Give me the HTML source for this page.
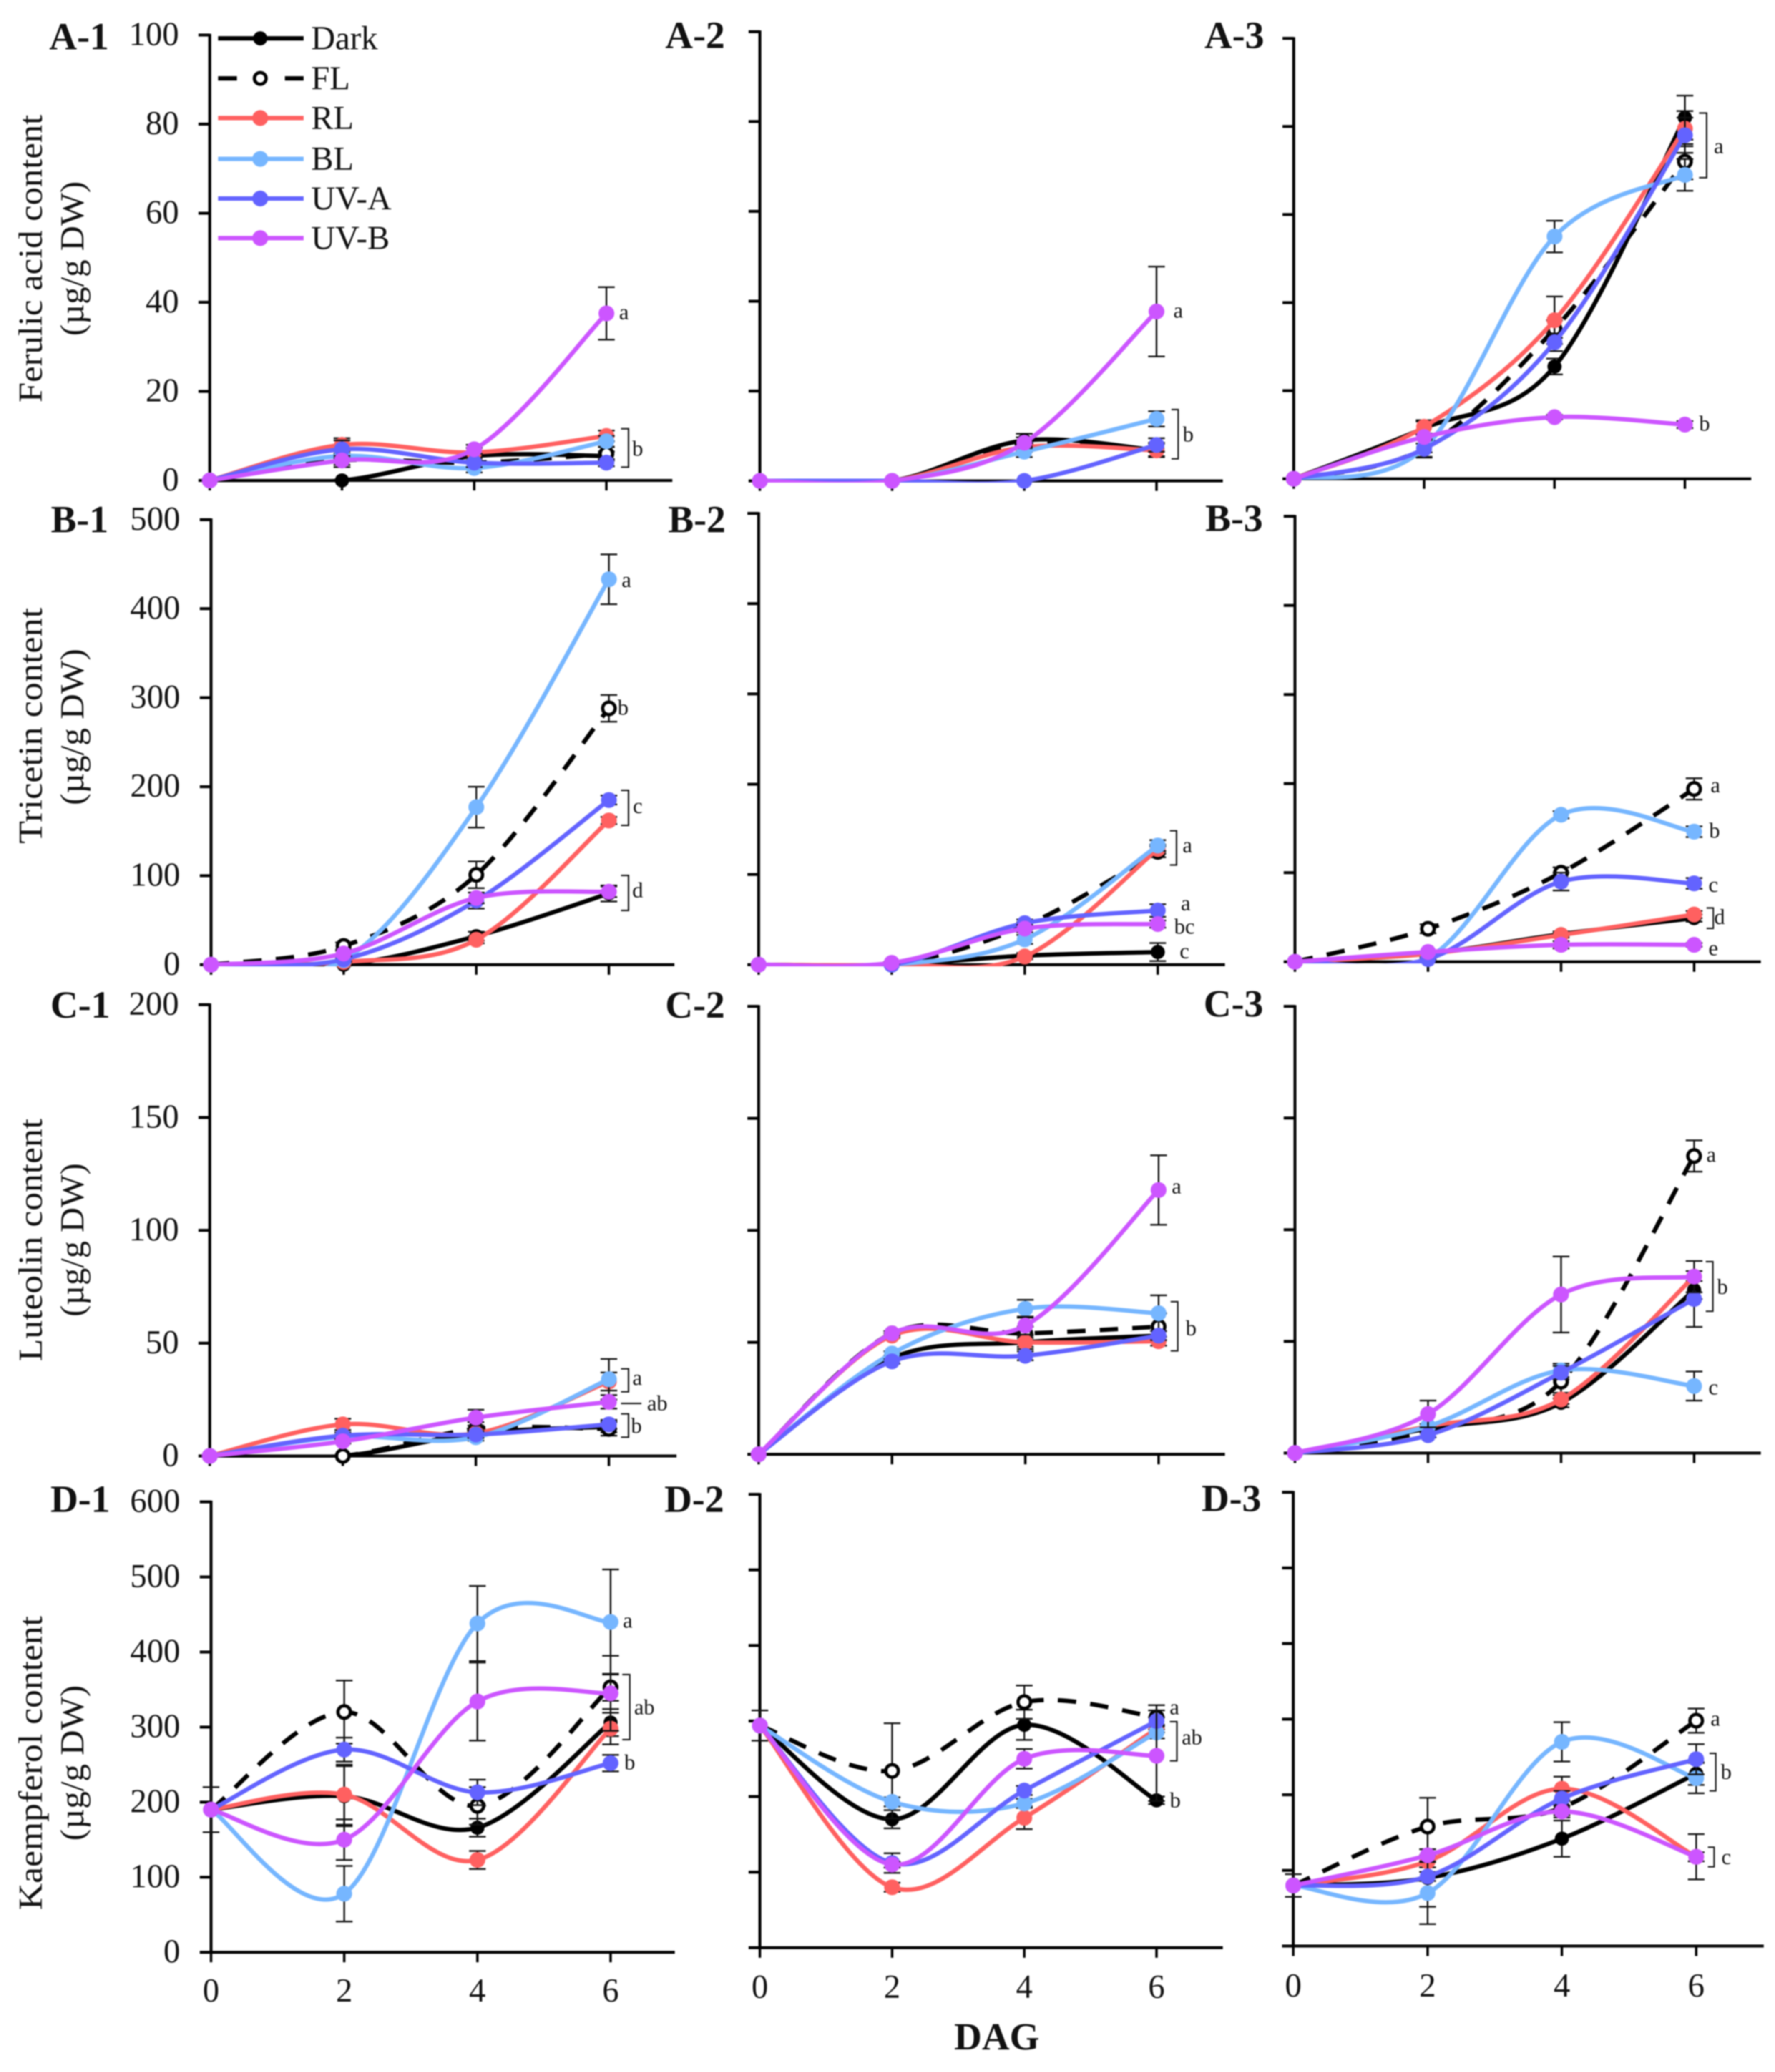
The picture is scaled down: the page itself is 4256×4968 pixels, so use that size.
<!DOCTYPE html>
<html lang="en">
<head>
<meta charset="utf-8">
<title>Phenolic content over days after germination</title>
<style>
html,body{margin:0;padding:0;background:#fff;}
svg{display:block;font-family:"Liberation Serif",serif;fill:#111;filter:blur(1.5px);}
.tick{font-size:80px;}
.panel{font-size:92px;font-weight:bold;}
.leg{font-size:80px;}
.yt{font-size:80px;text-anchor:middle;}
.let{font-size:52px;text-anchor:middle;dominant-baseline:central;}
.br{fill:none;stroke:#111;stroke-width:3.5;}
</style>
</head>
<body>
<svg id="chart" xmlns="http://www.w3.org/2000/svg" width="4256" height="4968" viewBox="0 0 4256 4968">
<rect x="0" y="0" width="4256" height="4968" fill="#fff"/>
<g id="plots"></g>

<g>
<text class="panel" x="118" y="118">A-1</text>
<text class="panel" x="1595" y="115">A-2</text>
<text class="panel" x="2888" y="115">A-3</text>
<text class="panel" x="122" y="1276">B-1</text>
<text class="panel" x="1602" y="1276">B-2</text>
<text class="panel" x="2890" y="1273">B-3</text>
<text class="panel" x="121" y="2440">C-1</text>
<text class="panel" x="1595" y="2440">C-2</text>
<text class="panel" x="2886" y="2437">C-3</text>
<text class="panel" x="121" y="3625">D-1</text>
<text class="panel" x="1593" y="3625">D-2</text>
<text class="panel" x="2881" y="3623">D-3</text>
</g>

<g>
<text class="yt" transform="translate(100,620) rotate(-90)" textLength="690" lengthAdjust="spacingAndGlyphs">Ferulic acid content</text>
<text class="yt" transform="translate(200,620) rotate(-90)" textLength="371" lengthAdjust="spacingAndGlyphs">(µg/g DW)</text>
<text class="yt" transform="translate(100,1740) rotate(-90)" textLength="566" lengthAdjust="spacingAndGlyphs">Tricetin content</text>
<text class="yt" transform="translate(200,1743) rotate(-90)" textLength="375" lengthAdjust="spacingAndGlyphs">(µg/g DW)</text>
<text class="yt" transform="translate(100,2973) rotate(-90)" textLength="582" lengthAdjust="spacingAndGlyphs">Luteolin content</text>
<text class="yt" transform="translate(200,2973) rotate(-90)" textLength="368" lengthAdjust="spacingAndGlyphs">(µg/g DW)</text>
<text class="yt" transform="translate(100,4227) rotate(-90)" textLength="705" lengthAdjust="spacingAndGlyphs">Kaempferol content</text>
<text class="yt" transform="translate(200,4227) rotate(-90)" textLength="373" lengthAdjust="spacingAndGlyphs">(µg/g DW)</text>
</g>

<text x="2390" y="4914" text-anchor="middle" font-size="92" font-weight="bold">DAG</text>

<g>
<g><line x1="523" x2="728" y1="92" y2="92" stroke="#000" stroke-width="10.5"/><circle cx="624" cy="92" r="17" fill="#000"/><text class="leg" x="746" y="118">Dark</text></g>
<g><line x1="523" x2="728" y1="188" y2="188" stroke="#000" stroke-width="10.5" stroke-dasharray="45 115"/><circle cx="624" cy="188" r="14" fill="#fff" stroke="#000" stroke-width="8"/><text class="leg" x="746" y="214">FL</text></g>
<g><line x1="523" x2="728" y1="283" y2="283" stroke="#FF6060" stroke-width="10.5"/><circle cx="624" cy="283" r="19" fill="#FF6060"/><text class="leg" x="746" y="309">RL</text></g>
<g><line x1="523" x2="728" y1="381" y2="381" stroke="#76B6FF" stroke-width="10.5"/><circle cx="624" cy="381" r="19" fill="#76B6FF"/><text class="leg" x="746" y="407">BL</text></g>
<g><line x1="523" x2="728" y1="476" y2="476" stroke="#6363FF" stroke-width="10.5"/><circle cx="624" cy="476" r="19" fill="#6363FF"/><text class="leg" x="746" y="502">UV-A</text></g>
<g><line x1="523" x2="728" y1="571" y2="571" stroke="#CC55FF" stroke-width="10.5"/><circle cx="624" cy="571" r="19" fill="#CC55FF"/><text class="leg" x="746" y="597">UV-B</text></g>
</g>

<g>
<text class="let" x="1496" y="749">a</text>
<text class="let" x="1529" y="1076">b</text>
<path class="br" d="M1489 1028H1507V1120H1489"/>
<text class="let" x="2825" y="745">a</text>
<text class="let" x="2849" y="1042">b</text>
<path class="br" d="M2809 982H2825V1100H2809"/>
<text class="let" x="4121" y="351">a</text>
<path class="br" d="M4074 271H4092V426H4074"/>
<text class="let" x="4087" y="1016">b</text>

<text class="let" x="1502" y="1391">a</text>
<text class="let" x="1494" y="1697">b</text>
<text class="let" x="1529" y="1933">c</text>
<path class="br" d="M1489 1895H1507V1979H1489"/>
<text class="let" x="1529" y="2135">d</text>
<path class="br" d="M1489 2099H1507V2183H1489"/>
<text class="let" x="2847" y="2027">a</text>
<path class="br" d="M2805 1992H2821V2074H2805"/>
<text class="let" x="2843" y="2166">a</text>
<text class="let" x="2840" y="2222">bc</text>
<text class="let" x="2840" y="2281">c</text>
<text class="let" x="4113" y="1883">a</text>
<text class="let" x="4111" y="1992">b</text>
<text class="let" x="4108" y="2122">c</text>
<text class="let" x="4123" y="2199">d</text>
<path class="br" d="M4092 2177H4108V2226H4092"/>
<text class="let" x="4108" y="2274">e</text>

<text class="let" x="1528" y="3304">a</text>
<path class="br" d="M1489 3282H1507V3337H1489"/>
<path class="br" d="M1489 3365H1538"/>
<text class="let" x="1576" y="3365">ab</text>
<text class="let" x="1526" y="3419">b</text>
<path class="br" d="M1489 3390H1507V3446H1489"/>
<text class="let" x="2821" y="2845">a</text>
<text class="let" x="2856" y="3185">b</text>
<path class="br" d="M2807 3121H2824V3239H2807"/>
<text class="let" x="4103" y="2769">a</text>
<text class="let" x="4130" y="3086">b</text>
<path class="br" d="M4090 3025H4107V3144H4090"/>
<text class="let" x="4108" y="3327">c</text>

<text class="let" x="1505" y="3886">a</text>
<text class="let" x="1545" y="4094">ab</text>
<path class="br" d="M1492 4015H1510V4171H1492"/>
<text class="let" x="1510" y="4226">b</text>
<text class="let" x="2816" y="4094">a</text>
<text class="let" x="2858" y="4166">ab</text>
<path class="br" d="M2805 4128H2822V4222H2805"/>
<text class="let" x="2818" y="4317">b</text>
<text class="let" x="4113" y="4121">a</text>
<text class="let" x="4139" y="4249">b</text>
<path class="br" d="M4099 4204H4114V4294H4099"/>
<text class="let" x="4139" y="4453">c</text>
<path class="br" d="M4095 4429H4110V4476H4095"/>
</g>
</svg>

<script>
const days = [0, 2, 4, 6];
const seriesNames = ['dark', 'fl', 'rl', 'bl', 'uv-a', 'uv-b'];
const seriesColors = ['#000000', '#000000', '#FF6060', '#76B6FF', '#6363FF', '#CC55FF'];

const ticksA = ['0', '20', '40', '60', '80', '100'];
const ticksB = ['0', '100', '200', '300', '400', '500'];
const ticksC = ['0', '50', '100', '150', '200'];
const ticksD = ['0', '100', '200', '300', '400', '500', '600'];

// A-1 ferulic acid
const a1Dark = [0, 0, 5.5, 5.5], a1FL = [0, 4.5, 4, 6], a1RL = [0, 8, 6.3, 10], a1BL = [0, 5.5, 2.8, 8.8], a1UVA = [0, 7, 4, 4], a1UVB = [0, 4.5, 7, 37.5];
const a1DarkE = [0, 0, 1, 1], a1FLE = [0, 1.5, 1, 1.5], a1RLE = [0, 1.5, 1, 1.2], a1BLE = [0, 1, 1, 1.2], a1UVAE = [0, 2, 1, 0.8], a1UVBE = [0, 1, 1, 5.9];
// A-2
const a2Dark = [0, 0, 9, 6.8], a2FL = [0, 0, 8, 7], a2RL = [0, 0, 7.5, 6.8], a2BL = [0, 0, 6.5, 13.8], a2UVA = [0, 0, 0, 8], a2UVB = [0, 0, 8.5, 37.7];
const a2DarkE = [0, 0, 1.5, 1.5], a2FLE = [0, 0, 1, 1.5], a2RLE = [0, 0, 1, 1.5], a2BLE = [0, 0, 1.2, 1.7], a2UVAE = [0, 0, 0, 1.5], a2UVBE = [0, 0, 1.2, 10];
// A-3
const a3Dark = [0, 11.5, 25.5, 82], a3FL = [0, 7, 34, 72], a3RL = [0, 11.8, 36, 79.5], a3BL = [0, 7, 55, 69], a3UVA = [0, 6.8, 31, 78], a3UVB = [0, 9.5, 14, 12.3];
const a3DarkE = [0, 1.5, 1.8, 5], a3FLE = [0, 1, 2, 4], a3RLE = [0, 1.5, 5.4, 4], a3BLE = [0, 2, 3.6, 3.6], a3UVAE = [0, 2, 2, 4], a3UVBE = [0, 0.5, 0.5, 0.8];
// B-1 tricetin
const b1Dark = [0, 0, 32, 80], b1FL = [0, 21, 101, 288], b1RL = [0, 3, 28, 162], b1BL = [0, 5, 177, 433], b1UVA = [0, 6, 72, 185], b1UVB = [0, 12.5, 75, 82];
const b1DarkE = [0, 1, 5, 9], b1FLE = [0, 4, 15, 15], b1RLE = [0, 1, 4, 4], b1BLE = [0, 2, 23, 28], b1UVAE = [0, 2, 9, 5], b1UVBE = [0, 3, 6, 6];
// B-2
const b2Dark = [0, 0, 10, 14], b2FL = [0, 0, 43, 125], b2RL = [0, 0, 9, 128], b2BL = [0, 0, 28, 132], b2UVA = [0, 0, 46, 60], b2UVB = [0, 2, 40, 45];
const b2DarkE = [0, 0, 3, 10], b2FLE = [0, 0, 4, 6], b2RLE = [0, 0, 3, 5], b2BLE = [0, 0, 5, 6], b2UVAE = [0, 0, 4, 7], b2UVBE = [0, 1, 4, 4];
// B-3
const b3Dark = [0, 9, 31, 49], b3FL = [0, 37, 100, 194], b3RL = [0, 9, 30, 53], b3BL = [0, 4, 165, 146], b3UVA = [0, 3, 90, 88], b3UVB = [0, 11, 19, 19];
const b3DarkE = [0, 1, 3, 4], b3FLE = [0, 5, 6, 12], b3RLE = [0, 1, 3, 4], b3BLE = [0, 1, 4, 6], b3UVAE = [0, 1, 10, 6], b3UVBE = [0, 1, 4, 2];
// C-1 luteolin
const c1Dark = [0, 0, 10, 13], c1FL = [0, 0, 12, 12], c1RL = [0, 14, 10, 33], c1BL = [0, 8.5, 8.3, 34], c1UVA = [0, 9, 9.5, 14], c1UVB = [0, 6.5, 17, 24];
const c1DarkE = [0, 0, 2, 2.5], c1FLE = [0, 0, 3, 3], c1RLE = [0, 2.5, 2, 4], c1BLE = [0, 1, 1.5, 9], c1UVAE = [0, 1.5, 1.5, 2], c1UVBE = [0, 1, 3.5, 3];
// C-2
const c2Dark = [0, 43, 50, 53], c2FL = [0, 54, 54, 57], c2RL = [0, 53, 50, 50.5], c2BL = [0, 45, 65, 63], c2UVA = [0, 41.5, 44, 53], c2UVB = [0, 54, 57.5, 118];
const c2DarkE = [0, 1, 2, 2], c2FLE = [0, 1, 3, 6], c2RLE = [0, 1, 3, 2], c2BLE = [0, 1, 4, 8], c2UVAE = [0, 1, 2, 2], c2UVBE = [0, 1, 4, 15.5];
// C-3
const c3Dark = [0, 11, 22.5, 73], c3FL = [0, 10, 32, 133], c3RL = [0, 12, 24, 79], c3BL = [0, 12, 37, 30], c3UVA = [0, 8, 36, 69], c3UVB = [0, 17.5, 71, 79];
const c3DarkE = [0, 1, 2, 4], c3FLE = [0, 1, 5, 7], c3RLE = [0, 1, 2, 7], c3BLE = [0, 1, 3, 6.5], c3UVAE = [0, 1, 3, 12.5], c3UVBE = [0, 6, 17, 7];
// D-1 kaempferol
const d1Dark = [190, 208, 166, 306], d1FL = [190, 320, 195, 353], d1RL = [190, 210, 123, 298], d1BL = [190, 78, 438, 440], d1UVA = [190, 270, 213, 252], d1UVB = [190, 150, 334, 345];
const d1DarkE = [0, 40, 12, 18], d1FLE = [30, 42, 25, 18], d1RLE = [0, 40, 12, 21], d1BLE = [0, 37, 50, 70], d1UVAE = [0, 16, 17, 11], d1UVBE = [0, 27, 52, 50];
// D-2
const d2Dark = [294, 170, 295, 195], d2FL = [294, 234, 325, 305], d2RL = [294, 80, 172, 290], d2BL = [294, 193, 191, 285], d2UVA = [294, 112, 208, 300], d2UVB = [294, 110, 250, 254];
const d2DarkE = [0, 12, 20, 5], d2FLE = [20, 63, 22, 16], d2RLE = [0, 6, 15, 5], d2BLE = [0, 6, 6, 8], d2UVAE = [0, 13, 6, 5], d2UVBE = [0, 4, 13, 60];
// D-3
const d3Dark = [80, 90, 142, 228], d3FL = [80, 158, 183, 298], d3RL = [80, 112, 208, 118], d3BL = [80, 70, 270, 222], d3UVA = [80, 92, 195, 247], d3UVB = [80, 120, 178, 118];
const d3DarkE = [0, 38, 24, 15], d3FLE = [15, 38, 10, 16], d3RLE = [0, 8, 16, 6], d3BLE = [0, 41, 26, 20], d3UVAE = [0, 6, 10, 20], d3UVBE = [0, 8, 8, 30];

const layout = [
  {id:'a1', x0:503,  x6:1454, right:1612, top:84,   bottom:1152, ticks:ticksA, yLabels:true,  xLabelY:0,    vals:[a1Dark,a1FL,a1RL,a1BL,a1UVA,a1UVB], errs:[a1DarkE,a1FLE,a1RLE,a1BLE,a1UVAE,a1UVBE]},
  {id:'a2', x0:1822, x6:2773, right:2932, top:76,   bottom:1153, ticks:ticksA, yLabels:false, xLabelY:0,    vals:[a2Dark,a2FL,a2RL,a2BL,a2UVA,a2UVB], errs:[a2DarkE,a2FLE,a2RLE,a2BLE,a2UVAE,a2UVBE]},
  {id:'a3', x0:3102, x6:4040, right:4199, top:92,   bottom:1148, ticks:ticksA, yLabels:false, xLabelY:0,    vals:[a3Dark,a3FL,a3RL,a3BL,a3UVA,a3UVB], errs:[a3DarkE,a3FLE,a3RLE,a3BLE,a3UVAE,a3UVBE]},
  {id:'b1', x0:506,  x6:1460, right:1617, top:1246, bottom:2313, ticks:ticksB, yLabels:true,  xLabelY:0,    vals:[b1Dark,b1FL,b1RL,b1BL,b1UVA,b1UVB], errs:[b1DarkE,b1FLE,b1RLE,b1BLE,b1UVAE,b1UVBE]},
  {id:'b2', x0:1819, x6:2776, right:2937, top:1231, bottom:2313, ticks:ticksB, yLabels:false, xLabelY:0,    vals:[b2Dark,b2FL,b2RL,b2BL,b2UVA,b2UVB], errs:[b2DarkE,b2FLE,b2RLE,b2BLE,b2UVAE,b2UVBE]},
  {id:'b3', x0:3105, x6:4062, right:4222, top:1238, bottom:2306, ticks:ticksB, yLabels:false, xLabelY:0,    vals:[b3Dark,b3FL,b3RL,b3BL,b3UVA,b3UVB], errs:[b3DarkE,b3FLE,b3RLE,b3BLE,b3UVAE,b3UVBE]},
  {id:'c1', x0:503,  x6:1460, right:1622, top:2409, bottom:3491, ticks:ticksC, yLabels:true,  xLabelY:0,    vals:[c1Dark,c1FL,c1RL,c1BL,c1UVA,c1UVB], errs:[c1DarkE,c1FLE,c1RLE,c1BLE,c1UVAE,c1UVBE]},
  {id:'c2', x0:1819, x6:2778, right:2937, top:2413, bottom:3487, ticks:ticksC, yLabels:false, xLabelY:0,    vals:[c2Dark,c2FL,c2RL,c2BL,c2UVA,c2UVB], errs:[c2DarkE,c2FLE,c2RLE,c2BLE,c2UVAE,c2UVBE]},
  {id:'c3', x0:3105, x6:4062, right:4222, top:2413, bottom:3484, ticks:ticksC, yLabels:false, xLabelY:0,    vals:[c3Dark,c3FL,c3RL,c3BL,c3UVA,c3UVB], errs:[c3DarkE,c3FLE,c3RLE,c3BLE,c3UVAE,c3UVBE]},
  {id:'d1', x0:506,  x6:1464, right:1618, top:3601, bottom:4681, ticks:ticksD, yLabels:true,  xLabelY:4799, vals:[d1Dark,d1FL,d1RL,d1BL,d1UVA,d1UVB], errs:[d1DarkE,d1FLE,d1RLE,d1BLE,d1UVAE,d1UVBE]},
  {id:'d2', x0:1822, x6:2773, right:2932, top:3583, bottom:4670, ticks:ticksD, yLabels:false, xLabelY:4790, vals:[d2Dark,d2FL,d2RL,d2BL,d2UVA,d2UVB], errs:[d2DarkE,d2FLE,d2RLE,d2BLE,d2UVAE,d2UVBE]},
  {id:'d3', x0:3101, x6:4067, right:4229, top:3578, bottom:4666, ticks:ticksD, yLabels:false, xLabelY:4787, vals:[d3Dark,d3FL,d3RL,d3BL,d3UVA,d3UVB], errs:[d3DarkE,d3FLE,d3RLE,d3BLE,d3UVAE,d3UVBE]}
];

const NS = 'http://www.w3.org/2000/svg';
function mk(parent, tag, attrs) {
  const el = document.createElementNS(NS, tag);
  for (const k in attrs) el.setAttribute(k, attrs[k]);
  parent.appendChild(el);
  return el;
}
function smoothPath(pts) {
  let d = 'M' + pts[0][0] + ' ' + pts[0][1];
  for (let i = 0; i < pts.length - 1; i++) {
    const p0 = pts[Math.max(i - 1, 0)], p1 = pts[i], p2 = pts[i + 1], p3 = pts[Math.min(i + 2, pts.length - 1)];
    const c1x = p1[0] + (p2[0] - p0[0]) / 6, c1y = p1[1] + (p2[1] - p0[1]) / 6;
    const c2x = p2[0] - (p3[0] - p1[0]) / 6, c2y = p2[1] - (p3[1] - p1[1]) / 6;
    d += 'C' + c1x.toFixed(1) + ' ' + c1y.toFixed(1) + ' ' + c2x.toFixed(1) + ' ' + c2y.toFixed(1) + ' ' + p2[0].toFixed(1) + ' ' + p2[1].toFixed(1);
  }
  return d;
}

const root = document.getElementById('plots');
const defs = mk(root, 'defs', {});

layout.forEach(function (p) {
  const yMax = +p.ticks[p.ticks.length - 1];
  const xScale = function (d) { return p.x0 + (d / 6) * (p.x6 - p.x0); };
  const yScale = function (v) { return p.bottom - (v / yMax) * (p.bottom - p.top); };

  const g = mk(root, 'g', {});
  
  

  const clip = mk(defs, 'clipPath', {id: 'clip-' + p.id});
  mk(clip, 'rect', {x: p.x0 - 20, y: p.top - 20, width: p.right - p.x0 + 40, height: p.bottom - p.top + 24});

  // axes
  const yAxis = mk(g, 'line', {x1: p.x0, x2: p.x0, y1: p.top - 3, y2: p.bottom + 3, stroke: '#000', 'stroke-width': 7});
  
  
  const xAxis = mk(g, 'line', {x1: p.x0 - 27, x2: p.right, y1: p.bottom, y2: p.bottom, stroke: '#000', 'stroke-width': 7});
  
  

  p.ticks.forEach(function (label) {
    const y = yScale(+label);
    const t = mk(g, 'line', {x1: p.x0 - 27, x2: p.x0, y1: y, y2: y, stroke: '#000', 'stroke-width': 7});
    
    
    if (p.yLabels) {
      const tl = mk(g, 'text', {x: p.x0 - 74, y: y + 24, 'text-anchor': 'end', 'class': 'tick'});
      tl.textContent = label;
      
      
    }
  });

  days.forEach(function (d) {
    const x = xScale(d);
    const t = mk(g, 'line', {x1: x, x2: x, y1: p.bottom, y2: p.bottom + 24, stroke: '#000', 'stroke-width': 6});
    
    
    if (p.xLabelY) {
      const tl = mk(g, 'text', {x: x, y: p.xLabelY, 'text-anchor': 'middle', 'class': 'tick'});
      tl.textContent = String(d);
      
      
    }
  });

  // series: error bars, line, markers
  p.vals.forEach(function (vals, si) {
    const color = seriesColors[si];
    const name = seriesNames[si];
    const errs = p.errs[si];
    const sg = mk(g, 'g', {});
    
    

    vals.forEach(function (v, i) {
      if (!errs[i]) return;
      const x = xScale(days[i]), yHi = yScale(v + errs[i]), yLo = yScale(v - errs[i]);
      const e = mk(sg, 'path', {
        d: 'M' + x + ' ' + yHi + 'V' + yLo + 'M' + (x - 20) + ' ' + yHi + 'H' + (x + 20) + 'M' + (x - 20) + ' ' + yLo + 'H' + (x + 20),
        fill: 'none', stroke: '#111', 'stroke-width': 4
      });
      
      
    });

    const pts = vals.map(function (v, i) { return [xScale(days[i]), yScale(v)]; });
    const lineAttrs = {d: smoothPath(pts), fill: 'none', stroke: color, 'stroke-width': 10.5, 'clip-path': 'url(#clip-' + p.id + ')'};
    if (si === 1) lineAttrs['stroke-dasharray'] = '44 34';
    const ln = mk(sg, 'path', lineAttrs);
    
    

    pts.forEach(function (pt) {
      const attrs = si === 1
        ? {cx: pt[0], cy: pt[1], r: 15, fill: '#fff', stroke: '#000', 'stroke-width': 8}
        : {cx: pt[0], cy: pt[1], r: si === 0 ? 17 : 19, fill: color};
      const c = mk(sg, 'circle', attrs);
      
      
    });
  });
});
</script>
</body>
</html>
